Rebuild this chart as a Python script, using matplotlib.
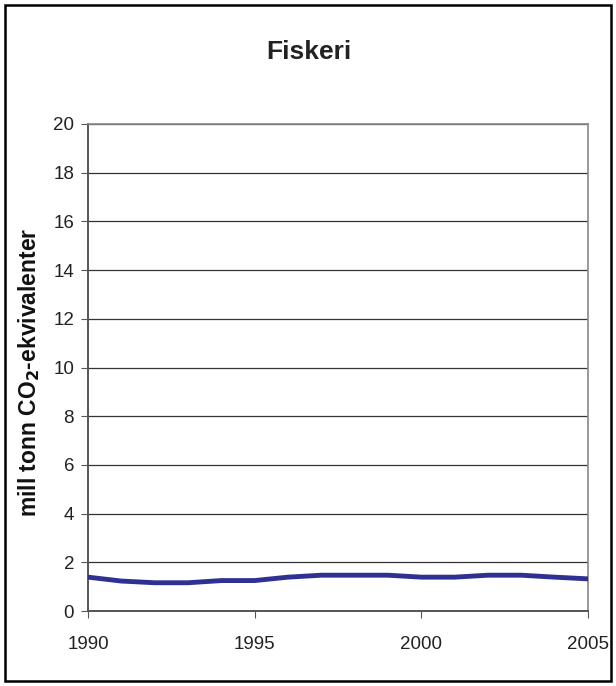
import matplotlib.pyplot as plt
from matplotlib.patches import Rectangle

plt.rcParams['font.family'] = ['Liberation Sans', 'DejaVu Sans']

years = list(range(1990, 2006))
utslipp = [1.39, 1.23, 1.16, 1.16, 1.25, 1.25, 1.39, 1.47,
           1.47, 1.47, 1.39, 1.39, 1.47, 1.47, 1.39, 1.32]
xticks = [1990, 1995, 2000, 2005]
yticks = list(range(0, 21, 2))

fig = plt.figure(figsize=(6.16, 6.86), dpi=100)
ax = fig.add_axes([88 / 616, 1 - 611 / 686, 500 / 616, 487 / 686])

ax.plot(years, utslipp, color='#2e3192', linewidth=3.5, solid_joinstyle='round', zorder=3)

ax.set_xlim(1990, 2005)
ax.set_ylim(0, 20)
ax.set_xticks(xticks)
ax.set_yticks(yticks)
ax.tick_params(axis='both', labelsize=13.5, direction='out', length=5, color='#555555',
               labelcolor='#222222')
ax.tick_params(axis='x', pad=13)
ax.tick_params(axis='y', pad=5)
ax.grid(axis='y', color='#333333', linewidth=0.9, zorder=1)

for side in ['top', 'right']:
    ax.spines[side].set_color('#888888')
    ax.spines[side].set_linewidth(1.2)
for side in ['left', 'bottom']:
    ax.spines[side].set_color('#555555')
    ax.spines[side].set_linewidth(1.4)

ax.set_ylabel('mill tonn CO$_\\mathbf{2}$-ekvivalenter', fontsize=16.5, fontweight='bold',
              color='#111111')
ax.yaxis.set_label_coords(42 / 616, 1 - 372 / 686, transform=fig.transFigure)
fig.text(309 / 616, 1 - 52 / 686, 'Fiskeri', fontsize=19, fontweight='bold', ha='center',
         va='center', color='#222222')

# outer frame around the whole chart
fig.patches.append(Rectangle((5 / 616, 5 / 686), 606 / 616, 676 / 686, fill=False,
                             edgecolor='black', linewidth=1.8, transform=fig.transFigure))

fig.savefig('out.png', dpi=100)
